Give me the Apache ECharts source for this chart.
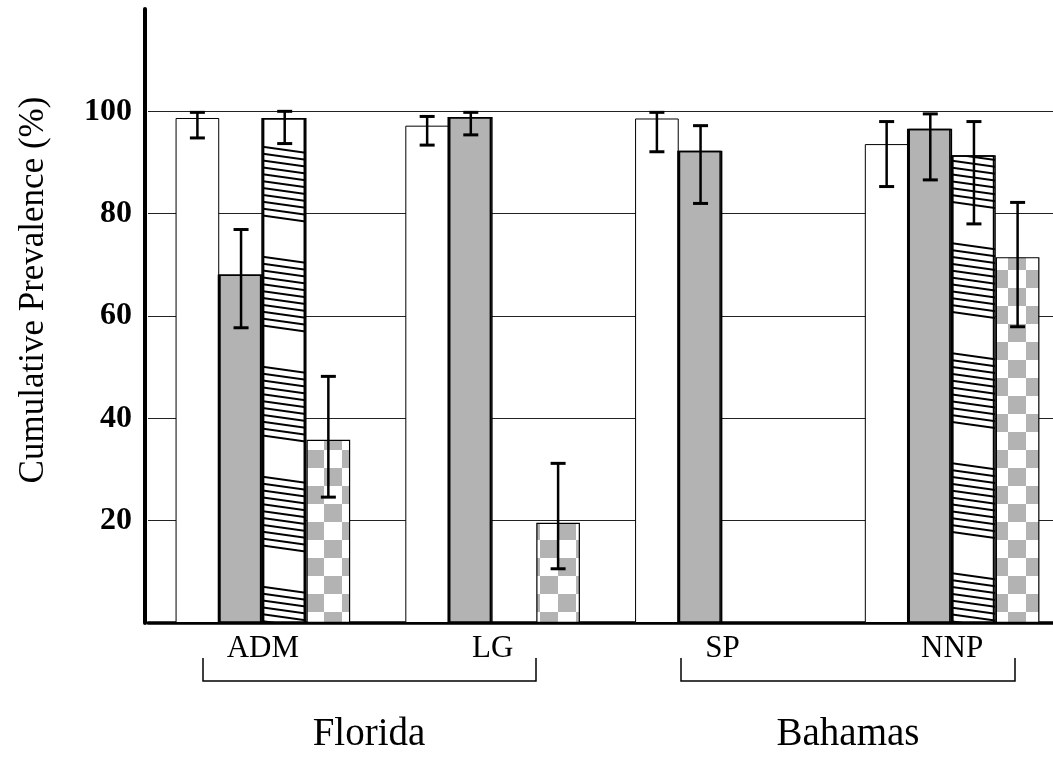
<!DOCTYPE html>
<html>
<head>
<meta charset="utf-8">
<script src="https://cdn.jsdelivr.net/npm/echarts@6/dist/echarts.min.js"></script>
<style>
html,body{margin:0;padding:0;background:#fff;}
#c{width:1053px;height:758px;}
</style>
</head>
<body>
<div id="c"></div>
<script>
// ---- data ----
const categories = ['ADM', 'LG', 'SP', 'NNP'];
const seriesNames = ['Open', 'Gray', 'Striped', 'Checkered'];
const openVals   = [98.7, 97.2, 98.6, 93.6];
const openLow    = [94.8, 93.4, 92.1, 85.3];
const openHigh   = [99.8, 99.0, 99.8, 98.0];
const grayVals   = [68.1, 98.9, 92.3, 96.6];
const grayLow    = [57.7, 95.4, 82.0, 86.6];
const grayHigh   = [76.9, 99.8, 97.2, 99.5];
const stripeVals = [98.7, null, null, 91.4];
const stripeLow  = [93.7, null, null, 78.0];
const stripeHigh = [100.0, null, null, 98.0];
const checkVals  = [35.8, 19.6, null, 71.5];
const checkLow   = [24.6, 10.6, null, 57.9];
const checkHigh  = [48.2, 31.2, null, 82.2];
const yTicks = [20, 40, 60, 80, 100];
const groupLabels = ['Florida', 'Bahamas'];

// ---- patterns ----
function stripePattern() {
  const W = 786, H = 110;
  const c = document.createElement('canvas');
  c.width = W; c.height = H;
  const g = c.getContext('2d');
  g.fillStyle = '#fff'; g.fillRect(0, 0, W, H);
  g.strokeStyle = '#000'; g.lineWidth = 2;
  const sp = H / 16;
  for (let k = -16; k < 16; k++) {
    const m = ((k % 16) + 16) % 16;
    if (m >= 11) continue;
    const y0 = k * sp;
    g.beginPath(); g.moveTo(0, y0); g.lineTo(W, y0 + H); g.stroke();
  }
  return c;
}
function checkerPattern() {
  const s = 18;
  const c = document.createElement('canvas');
  c.width = 2 * s; c.height = 2 * s;
  const g = c.getContext('2d');
  g.fillStyle = '#fff'; g.fillRect(0, 0, 2 * s, 2 * s);
  g.fillStyle = '#b3b3b3';
  g.fillRect(0, 0, s, s); g.fillRect(s, s, s, s);
  return c;
}

const BAR_FRAC = 0.19;
const FONT = '"Liberation Serif", "Times New Roman", serif';

const barStyles = [
  { color: '#fff', borderColor: '#000', borderWidth: 1 },
  { color: '#b3b3b3', borderColor: '#000', borderWidth: 1.5, shadowColor: '#000', shadowOffsetX: -1.5, shadowBlur: 0 },
  { color: { image: stripePattern(), repeat: 'repeat' }, borderColor: '#000', borderWidth: 1.5, shadowColor: '#000', shadowOffsetX: -1.5, shadowBlur: 0 },
  { color: { image: checkerPattern(), repeat: 'repeat' }, borderColor: '#000', borderWidth: 1.2 }
];
const allVals = [openVals, grayVals, stripeVals, checkVals];
const allLow = [openLow, grayLow, stripeLow, checkLow];
const allHigh = [openHigh, grayHigh, stripeHigh, checkHigh];

const series = [];
allVals.forEach((vals, i) => {
  series.push({
    type: 'bar', name: seriesNames[i], data: vals,
    barWidth: (BAR_FRAC * 100) + '%', barGap: '0%',
    itemStyle: barStyles[i], silent: true, z: 2
  });
});
allVals.forEach((vals, i) => {
  const d = [];
  vals.forEach((v, j) => { if (v != null) d.push([j, allLow[i][j], allHigh[i][j]]); });
  series.push({
    type: 'custom', name: seriesNames[i] + ' err', data: d, z: 5, silent: true,
    encode: { x: 0, y: [1, 2] },
    renderItem: function (params, api) {
      const cat = api.value(0), lo = api.value(1), hi = api.value(2);
      const bw = api.size([1, 0])[0];
      const x = api.coord([cat, 0])[0] + (i - 1.5) * bw * BAR_FRAC;
      const yl = api.coord([cat, lo])[1];
      const yh = api.coord([cat, hi])[1];
      const cw = 7.5;
      return {
        type: 'group',
        children: [
          { type: 'line', shape: { x1: x, y1: yl, x2: x, y2: yh }, style: { stroke: '#000', lineWidth: 2.5 } },
          { type: 'line', shape: { x1: x - cw, y1: yl, x2: x + cw, y2: yl }, style: { stroke: '#000', lineWidth: 3 } },
          { type: 'line', shape: { x1: x - cw, y1: yh, x2: x + cw, y2: yh }, style: { stroke: '#000', lineWidth: 3 } }
        ]
      };
    }
  });
});

const chart = echarts.init(document.getElementById('c'));
chart.setOption({
  animation: false,
  backgroundColor: '#fff',
  grid: { left: 148, top: 9, width: 919, height: 614, containLabel: false, outerBoundsMode: 'none' },
  xAxis: {
    type: 'category', data: categories,
    axisLine: { show: true, lineStyle: { color: '#000', width: 3.5 } },
    axisTick: { show: false },
    axisLabel: { fontFamily: FONT, fontSize: 31, color: '#000', margin: 10 },
    splitLine: { show: false }
  },
  yAxis: {
    type: 'value', min: 0, max: 120, interval: 20, offset: 3,
    axisLine: { show: true, lineStyle: { color: '#000', width: 4 } },
    axisTick: { show: false },
    axisLabel: {
      fontFamily: FONT, fontSize: 32, fontWeight: 'bold', color: '#000', margin: 13,
      padding: [6, 0, 0, 0],
      formatter: v => (yTicks.indexOf(v) >= 0 ? String(v) : '')
    },
    splitLine: { show: true, showMinLine: false, showMaxLine: false, lineStyle: { color: '#222', width: 1 } }
  },
  series: series,
  graphic: [
    { type: 'text', x: 34, y: 290, rotation: Math.PI / 2,
      style: { text: 'Cumulative Prevalence (%)', fontFamily: FONT, fontSize: 35, fill: '#000', align: 'center', verticalAlign: 'middle' } },
    { type: 'polyline', shape: { points: [[203, 658], [203, 681], [536, 681], [536, 658]] }, style: { stroke: '#000', lineWidth: 1.5, fill: null } },
    { type: 'polyline', shape: { points: [[681, 658], [681, 681], [1015, 681], [1015, 658]] }, style: { stroke: '#000', lineWidth: 1.5, fill: null } },
    { type: 'text', x: 369, y: 735, style: { text: groupLabels[0], fontFamily: FONT, fontSize: 39, fill: '#000', align: 'center', verticalAlign: 'middle' } },
    { type: 'text', x: 848, y: 735, style: { text: groupLabels[1], fontFamily: FONT, fontSize: 39, fill: '#000', align: 'center', verticalAlign: 'middle' } }
  ]
});
</script>
</body>
</html>
